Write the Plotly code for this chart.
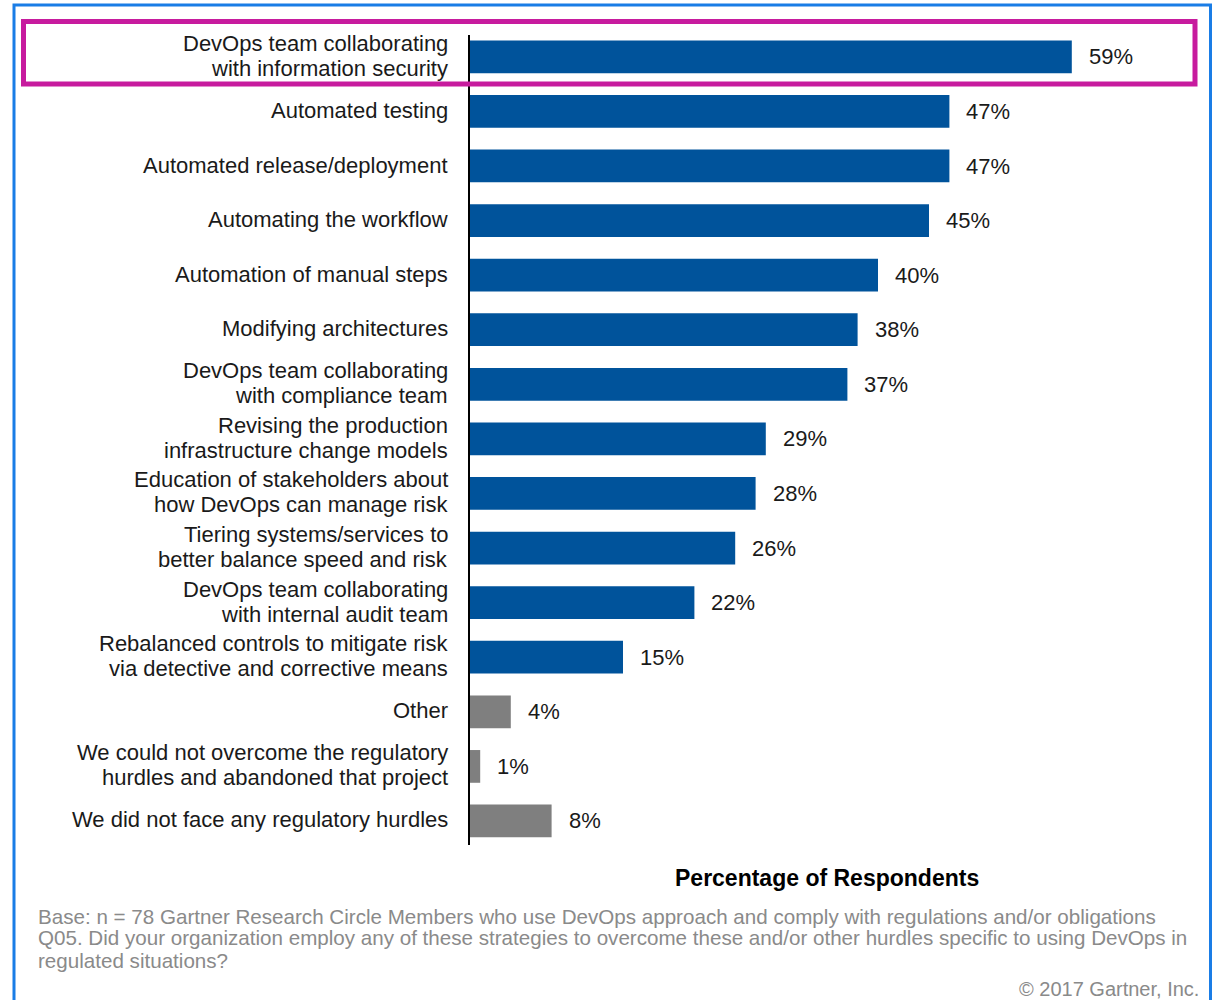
import plotly.graph_objects as go

categories = [
    "DevOps team collaborating<br>with information security",
    "Automated testing",
    "Automated release/deployment",
    "Automating the workflow",
    "Automation of manual steps",
    "Modifying architectures",
    "DevOps team collaborating<br>with compliance team",
    "Revising the production<br>infrastructure change models",
    "Education of stakeholders about<br>how DevOps can manage risk",
    "Tiering systems/services to<br>better balance speed and risk",
    "DevOps team collaborating<br>with internal audit team",
    "Rebalanced controls to mitigate risk<br>via detective and corrective means",
    "Other",
    "We could not overcome the regulatory<br>hurdles and abandoned that project",
    "We did not face any regulatory hurdles",
]
values = [59, 47, 47, 45, 40, 38, 37, 29, 28, 26, 22, 15, 4, 1, 8]
groups = ["strategy"] * 12 + ["other"] * 3

axis_title = "Percentage of Respondents"
footnote_lines = [
    "Base: n = 78 Gartner Research Circle Members who use DevOps approach and comply with regulations and/or obligations",
    "Q05. Did your organization employ any of these strategies to overcome these and/or other hurdles specific to using DevOps in",
    "regulated situations?",
]
copyright_text = "© 2017 Gartner, Inc."

BLUE = "#00539b"
GRAY = "#7f7f7f"
colors = [BLUE if g == "strategy" else GRAY for g in groups]

W, H = 1214, 1000
L, R, T, B = 470, 30, 35, 155
pw, ph = W - L - R, H - T - B

def px_x(x):
    return (x - L) / pw

def px_y(y):
    return (H - B - y) / ph

fig = go.Figure()
fig.add_trace(go.Bar(
    x=values, y=categories, orientation="h",
    marker=dict(color=colors, line=dict(width=0)),
    width=0.6, hoverinfo="skip",
))

font_main = "Liberation Sans, Arial, sans-serif"
LINE_GAP = 25

annotations = []
for c, v in zip(categories, values):
    annotations.append(dict(
        x=v, y=c, xref="x", yref="y", text=f"{v}%", showarrow=False,
        xanchor="left", yanchor="middle", xshift=15,
        font=dict(family=font_main, size=22, color="#1a1a1a"),
    ))
    lines = c.split("<br>")
    n = len(lines)
    for i, line in enumerate(lines):
        annotations.append(dict(
            x=px_x(450), y=c, xref="paper", yref="y", text=line, showarrow=False,
            xanchor="right", yanchor="middle",
            yshift=((n - 1) / 2 - i) * LINE_GAP + 1,
            font=dict(family=font_main, size=22, color="#1a1a1a"),
        ))
annotations.append(dict(
    x=0.5, y=px_y(878), xref="paper", yref="paper", text=f"<b>{axis_title}</b>",
    showarrow=False, xanchor="center", yanchor="middle",
    font=dict(family=font_main, size=23, color="#000000"),
))
for i, line in enumerate(footnote_lines):
    annotations.append(dict(
        x=px_x(36), y=px_y(916 + 22 * i), xref="paper", yref="paper", text=line,
        showarrow=False, xanchor="left", yanchor="middle", align="left",
        font=dict(family=font_main, size=20.6, color="#8a8a8a"),
    ))
annotations.append(dict(
    x=px_x(1201), y=px_y(989), xref="paper", yref="paper", text=copyright_text,
    showarrow=False, xanchor="right", yanchor="middle",
    font=dict(family=font_main, size=20, color="#8a8a8a"),
))

shapes = [
    dict(type="rect", xref="paper", yref="paper",
         x0=px_x(14), x1=px_x(1210.5), y0=px_y(1010), y1=px_y(5),
         line=dict(color="#1a7de6", width=3), fillcolor="rgba(0,0,0,0)", layer="above"),
    dict(type="rect", xref="paper", yref="paper",
         x0=px_x(23.5), x1=px_x(1195), y0=px_y(84), y1=px_y(21.5),
         line=dict(color="#c71b9e", width=5), fillcolor="rgba(0,0,0,0)", layer="above"),
]

fig.update_layout(
    width=W, height=H,
    margin=dict(l=L, r=R, t=T, b=B),
    paper_bgcolor="white", plot_bgcolor="white",
    showlegend=False,
    annotations=annotations,
    shapes=shapes,
    xaxis=dict(range=[0, 70], showgrid=False, zeroline=False, showticklabels=False,
               showline=False, ticks=""),
    yaxis=dict(type="category", range=[14.44, -0.4], showgrid=False, zeroline=False,
               showline=True, linecolor="#000000", linewidth=2, ticks="",
               showticklabels=False),
)

fig.write_html(
    "out.html",
    config={"displayModeBar": False},
    post_script="document.body.style.margin='0';document.body.style.overflow='hidden';",
)
